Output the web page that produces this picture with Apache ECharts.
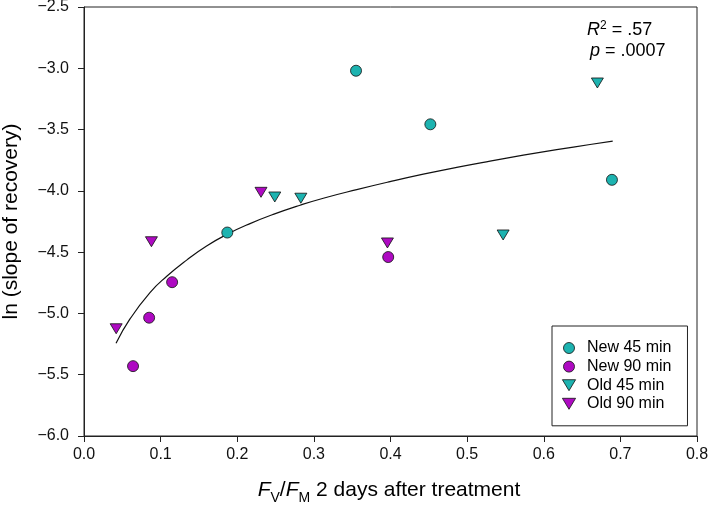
<!DOCTYPE html>
<html>
<head>
<meta charset="utf-8">
<script src="https://cdn.jsdelivr.net/npm/echarts@6/dist/echarts.min.js"></script>
<style>
  html, body { margin: 0; padding: 0; background: #fff; }
  #chart { width: 709px; height: 505px; }
</style>
</head>
<body>
<div id="chart"></div>
<script>
// ---- data ----
const seriesNames = ['New 45 min', 'New 90 min', 'Old 45 min', 'Old 90 min'];
const new45X = [0.187, 0.355, 0.452, 0.689];
const new45Y = [-4.34, -3.02, -3.457, -3.91];
const new90X = [0.064, 0.085, 0.115, 0.397];
const new90Y = [-5.43, -5.035, -4.745, -4.54];
const old45X = [0.249, 0.283, 0.547, 0.670];
const old45Y = [-4.05, -4.06, -4.36, -3.12];
const old90X = [0.042, 0.088, 0.231, 0.396];
const old90Y = [-5.125, -4.415, -4.012, -4.425];
// fitted curve
const fitX = [0.0418, 0.060, 0.0861, 0.108, 0.134, 0.160, 0.1875, 0.2167, 0.247, 0.282,
              0.3123, 0.3559, 0.3993, 0.4428, 0.4864, 0.5299, 0.5733, 0.6169, 0.6604, 0.690];
const fitY = [-5.244, -5.045, -4.830, -4.697, -4.565, -4.450, -4.352, -4.267, -4.192, -4.117,
              -4.060, -3.990, -3.925, -3.864, -3.808, -3.757, -3.709, -3.664, -3.622, -3.595];
const xTicks = [0, 0.1, 0.2, 0.3, 0.4, 0.5, 0.6, 0.7, 0.8];
const yTicks = [-6.0, -5.5, -5.0, -4.5, -4.0, -3.5, -3.0, -2.5];
const statsR2 = '.57';
const statsP = '.0007';

const TEAL = '#1DB3B0';
const MAGENTA = '#AE0AC2';
const FONT = '"Liberation Sans", Arial, Helvetica, sans-serif';
const DOWN_TRI = 'path://M0,0 L12,0 L6,10 Z';

function pairs(xs, ys) { return xs.map((x, i) => [x, ys[i]]); }

const chart = echarts.init(document.getElementById('chart'), null, { renderer: 'canvas' });

// text measuring for composite labels
const mctx = document.createElement('canvas').getContext('2d');
function measure(text, size, italic) {
  mctx.font = (italic ? 'italic ' : '') + size + 'px ' + FONT;
  return mctx.measureText(text).width;
}
function composite(segs, x, baseline) {
  const out = [];
  let cx = x;
  segs.forEach(sg => {
    const w = measure(sg.t, sg.s, sg.i);
    out.push({
      type: 'text', silent: true,
      style: {
        text: sg.t, x: cx, y: baseline + (sg.dy || 0) - 0.31 * sg.s,
        font: (sg.i ? 'italic ' : '') + sg.s + 'px ' + FONT,
        fill: '#000', align: 'left', verticalAlign: 'middle'
      }
    });
    cx += w;
  });
  return { els: out, width: cx - x };
}
function totalWidth(segs) { return segs.reduce((a, sg) => a + measure(sg.t, sg.s, sg.i), 0); }

const xTitleSegs = [
  { t: 'F', s: 21, i: true },
  { t: 'V', s: 14, i: false, dy: 5 },
  { t: '/', s: 21, i: false },
  { t: 'F', s: 21, i: true },
  { t: 'M', s: 14, i: false, dy: 5 },
  { t: ' 2 days after treatment', s: 21, i: false }
];
const xTitleCenter = 389;
const xTitle = composite(xTitleSegs, xTitleCenter - totalWidth(xTitleSegs) / 2, 497);

const r2Segs = [
  { t: 'R', s: 18, i: true },
  { t: '2', s: 12, i: false, dy: -7 },
  { t: ' = ' + statsR2, s: 18, i: false }
];
const pSegs = [
  { t: 'p', s: 18, i: true },
  { t: ' = ' + statsP, s: 18, i: false }
];
const r2 = composite(r2Segs, 587, 36);
const pl = composite(pSegs, 590, 57);

const scatterBase = {
  type: 'scatter',
  itemStyle: { borderColor: '#111', borderWidth: 0.8, opacity: 1 },
  emphasis: { disabled: true },
  z: 3
};

const option = {
  animation: false,
  backgroundColor: '#fff',
  textStyle: { fontFamily: FONT },
  grid: {
    left: 84, top: 7, right: 12, bottom: 69,
    containLabel: false, outerBoundsMode: 'none',
    show: true, borderColor: '#222', borderWidth: 1, backgroundColor: 'transparent'
  },
  xAxis: {
    type: 'value', min: xTicks[0], max: xTicks[xTicks.length - 1], interval: 0.1,
    axisLine: { show: true, onZero: false, lineStyle: { color: '#222', width: 1 } },
    axisTick: { show: true, inside: false, length: 6, lineStyle: { color: '#222', width: 1 } },
    splitLine: { show: false },
    axisLabel: {
      color: '#111', fontSize: 16, fontFamily: FONT, margin: 11,
      formatter: v => v.toFixed(1)
    }
  },
  yAxis: {
    type: 'value', min: yTicks[0], max: yTicks[yTicks.length - 1], interval: 0.5,
    axisLine: { show: true, onZero: false, lineStyle: { color: '#222', width: 1 } },
    axisTick: { show: true, inside: false, length: 6, lineStyle: { color: '#222', width: 1 } },
    splitLine: { show: false },
    axisLabel: {
      color: '#111', fontSize: 16, fontFamily: FONT, margin: 15,
      formatter: v => (v < 0 ? '\u2212' : '') + Math.abs(v).toFixed(1)
    },
    name: 'ln (slope of recovery)',
    nameLocation: 'middle', nameRotate: 90, nameGap: 62,
    nameTextStyle: { fontSize: 21, color: '#000', fontFamily: FONT }
  },
  legend: {
    data: [
      { name: seriesNames[0], icon: 'circle' },
      { name: seriesNames[1], icon: 'circle' },
      { name: seriesNames[2], icon: DOWN_TRI },
      { name: seriesNames[3], icon: DOWN_TRI }
    ],
    orient: 'vertical',
    left: 552, top: 326,
    padding: [14, 16, 14, 10],
    itemWidth: 26, itemHeight: 11, itemGap: 2.6,
    symbolKeepAspect: true,
    borderColor: '#222', borderWidth: 1, borderRadius: 0,
    backgroundColor: '#fff',
    selectedMode: false,
    itemStyle: { borderColor: '#111', borderWidth: 0.8 },
    textStyle: { fontSize: 16, color: '#000', fontFamily: FONT, lineHeight: 16 }
  },
  series: [
    Object.assign({}, scatterBase, {
      name: seriesNames[0], data: pairs(new45X, new45Y),
      symbol: 'circle', symbolSize: 11, itemStyle: Object.assign({}, scatterBase.itemStyle, { color: TEAL })
    }),
    Object.assign({}, scatterBase, {
      name: seriesNames[1], data: pairs(new90X, new90Y),
      symbol: 'circle', symbolSize: 11, itemStyle: Object.assign({}, scatterBase.itemStyle, { color: MAGENTA })
    }),
    Object.assign({}, scatterBase, {
      name: seriesNames[2], data: pairs(old45X, old45Y),
      symbol: 'triangle', symbolSize: [12, 10], symbolRotate: 180,
      itemStyle: Object.assign({}, scatterBase.itemStyle, { color: TEAL })
    }),
    Object.assign({}, scatterBase, {
      name: seriesNames[3], data: pairs(old90X, old90Y),
      symbol: 'triangle', symbolSize: [12, 10], symbolRotate: 180,
      itemStyle: Object.assign({}, scatterBase.itemStyle, { color: MAGENTA })
    }),
    {
      name: 'fit', type: 'line', data: pairs(fitX, fitY),
      smooth: 0.5, showSymbol: false, symbol: 'none',
      lineStyle: { color: '#111', width: 1.2 },
      emphasis: { disabled: true }, z: 2
    }
  ],
  graphic: [].concat(xTitle.els, r2.els, pl.els)
};

chart.setOption(option);
</script>
</body>
</html>
